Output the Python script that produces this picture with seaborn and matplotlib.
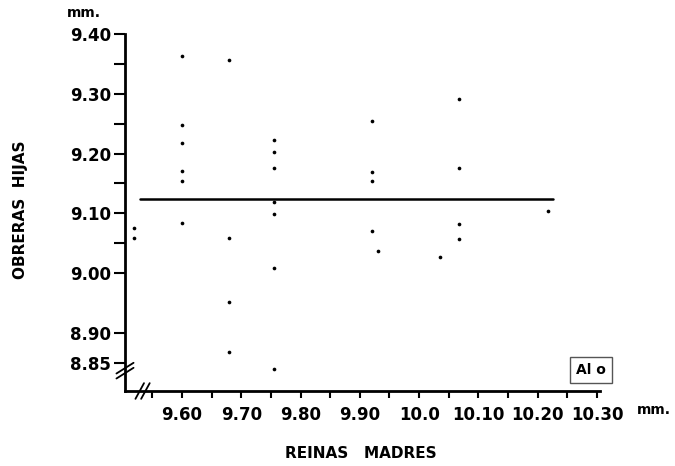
import numpy as np
import pandas as pd
import matplotlib
matplotlib.use("Agg")
import matplotlib.pyplot as plt
from matplotlib.ticker import FixedLocator
import seaborn as sns

# Tamaño de las reinas madres (mm) y de sus obreras hijas (mm)
reinas = [9.52, 9.52,
          9.60, 9.60, 9.60, 9.60, 9.60, 9.60,
          9.68, 9.68, 9.68, 9.68,
          9.755, 9.755, 9.755, 9.755, 9.755, 9.755, 9.755,
          9.92, 9.92, 9.92, 9.92, 9.93,
          10.035,
          10.067, 10.067, 10.067, 10.067,
          10.217]
obreras = [9.076, 9.059,
           9.363, 9.247, 9.218, 9.171, 9.155, 9.084,
           9.356, 9.059, 8.951, 8.869,
           9.222, 9.203, 9.176, 9.119, 9.099, 9.008, 8.840,
           9.254, 9.170, 9.155, 9.070, 9.037,
           9.027,
           9.292, 9.176, 9.082, 9.058,
           9.104]

linea_x = [9.53, 10.225]

x_ticks = [9.60, 9.70, 9.80, 9.90, 10.00, 10.10, 10.20, 10.30]
x_labels = ["9.60", "9.70", "9.80", "9.90", "10.0", "10.10", "10.20", "10.30"]
x_minor = [9.55, 9.65, 9.75, 9.85, 9.95, 10.05, 10.15, 10.25]
y_ticks = [8.85, 8.90, 9.00, 9.10, 9.20, 9.30, 9.40]
y_labels = ["8.85", "8.90", "9.00", "9.10", "9.20", "9.30", "9.40"]
y_minor = [9.05, 9.15, 9.25, 9.35]

df = pd.DataFrame({"reina": reinas, "obrera": obreras})

sns.set_style("ticks")
plt.rcParams["font.family"] = ["DejaVu Sans"]
plt.rcParams["text.color"] = "black"
plt.rcParams["xtick.color"] = "black"
plt.rcParams["ytick.color"] = "black"

fig = plt.figure(figsize=(6.75, 4.66), dpi=100)
ax = fig.add_axes([125 / 675, 1 - 391 / 466, 475 / 675, 357 / 466])

sns.scatterplot(data=df, x="reina", y="obrera", ax=ax, color="black",
                s=7, linewidth=0, legend=False)

# media de las obreras
media = np.mean(obreras)
sns.lineplot(x=linea_x, y=[media, media], ax=ax, color="black", lw=1.8)

ax.set_xlim(9.504, 10.305)
ax.set_ylim(8.803, 9.40)

ax.xaxis.set_major_locator(FixedLocator(x_ticks))
ax.xaxis.set_minor_locator(FixedLocator(x_minor))
ax.yaxis.set_major_locator(FixedLocator(y_ticks))
ax.yaxis.set_minor_locator(FixedLocator(y_minor))
ax.set_xticklabels(x_labels, fontsize=12, fontweight="bold", color="black")
ax.set_yticklabels(y_labels, fontsize=12, fontweight="bold", color="black")

ax.tick_params(axis="both", which="both", direction="out", width=1.5, color="black")
ax.tick_params(axis="y", which="both", length=8, pad=2)
ax.tick_params(axis="x", which="both", length=5, pad=6)

sns.despine(ax=ax)
for s in ["left", "bottom"]:
    ax.spines[s].set_linewidth(2)
    ax.spines[s].set_color("black")

ax.set_xlabel("")
ax.set_ylabel("")

# cortes de eje
kw = dict(transform=ax.transAxes, color="black", lw=1.3, clip_on=False)
for d in [0.0, 0.012]:
    ax.plot([0.022 + d, 0.040 + d], [-0.022, 0.022], **kw)
for d in [0.0, 0.014]:
    ax.plot([-0.018, 0.018], [0.035 + d, 0.065 + d], **kw)

fig.text(21 / 675, 1 - 210 / 466, "OBRERAS  HIJAS", rotation=90, ha="center",
         va="center", fontsize=11, fontweight="bold")
fig.text(361 / 675, 1 - 453 / 466, "REINAS   MADRES", ha="center", va="center",
         fontsize=11, fontweight="bold")
fig.text(67 / 675, 1 - 13 / 466, "mm.", ha="left", va="center",
         fontsize=10, fontweight="bold")
fig.text(637 / 675, 1 - 410 / 466, "mm.", ha="left", va="center",
         fontsize=10, fontweight="bold")
fig.text(591 / 675, 1 - 370 / 466, "Al o", ha="center", va="center",
         fontsize=10, fontweight="bold",
         bbox=dict(boxstyle="square,pad=0.45", fc="white", ec="#555555", lw=1))

fig.savefig("out.png", dpi=100)
